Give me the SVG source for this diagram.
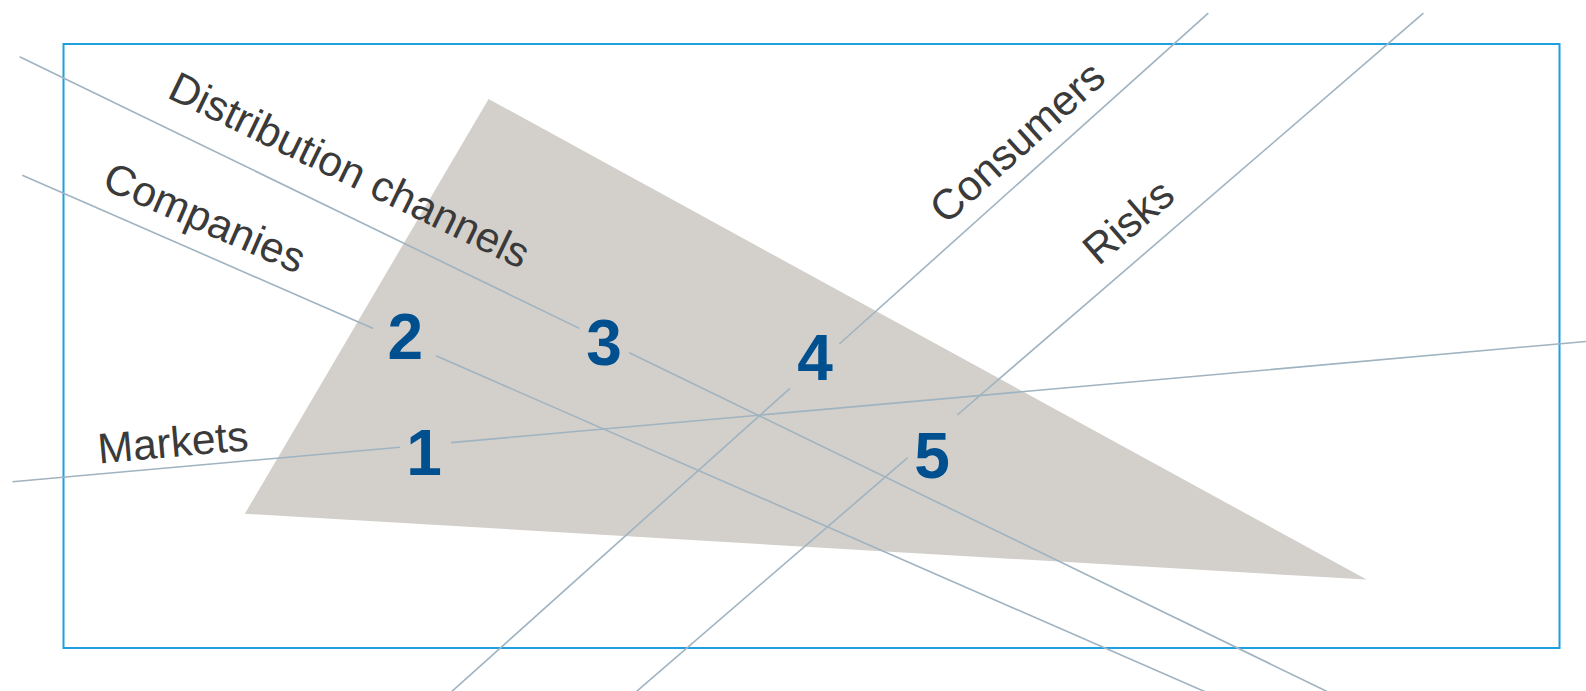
<svg xmlns="http://www.w3.org/2000/svg" width="1586" height="691" viewBox="0 0 1586 691">
<style>
.frame{fill:none;stroke:#1ea0e0;stroke-width:2}
.tri{fill:#d3d0cb}
.ln{stroke:#9fb3c1;stroke-width:1.6;fill:none}
.lbl{font-family:"Liberation Sans",Arial,sans-serif;font-size:42.5px;fill:#3a3a3a}
.num{font-family:"Liberation Sans",Arial,sans-serif;font-size:64px;font-weight:bold;fill:#00508f;text-anchor:middle}
</style>
<rect width="1586" height="691" fill="#ffffff"/>
<rect id="frame" class="frame" x="63.5" y="44" width="1496" height="604"/>
<polygon id="triangle" class="tri" points="488.6,99 244.8,513.8 1366.6,579.6"/>
<g id="connectors">
<line class="ln" x1="19.6" y1="56.7" x2="579.3" y2="328.4"/>
<line class="ln" x1="629.3" y1="352.7" x2="1344.6" y2="700"/>
<line class="ln" x1="22.3" y1="175.2" x2="373.3" y2="328.5"/>
<line class="ln" x1="436" y1="355.8" x2="1224" y2="700"/>
<line class="ln" x1="12.5" y1="481.7" x2="400" y2="447.2"/>
<line class="ln" x1="451" y1="442.6" x2="1590" y2="341.1"/>
<line class="ln" x1="1208.3" y1="13.2" x2="839.3" y2="344"/>
<line class="ln" x1="790" y1="388.3" x2="442.3" y2="700"/>
<line class="ln" x1="1423.4" y1="13.2" x2="957.3" y2="415"/>
<line class="ln" x1="907.7" y1="457.7" x2="626.6" y2="700"/>
</g>
<g id="markets"><text class="lbl" transform="translate(99,463.5) rotate(-5.09)">Markets</text><text class="num" x="424" y="475">1</text></g>
<g id="companies"><text class="lbl" transform="translate(100.5,188) rotate(23.6)">Companies</text><text class="num" x="405.3" y="359">2</text></g>
<g id="distribution"><text class="lbl" transform="translate(165.7,97) rotate(25.9)">Distribution channels</text><text class="num" x="604" y="365">3</text></g>
<g id="consumers"><text class="lbl" transform="translate(946,225.4) rotate(-41.9)">Consumers</text><text class="num" x="815" y="380">4</text></g>
<g id="risks"><text class="lbl" transform="translate(1098.5,266.5) rotate(-40.8)">Risks</text><text class="num" x="932" y="478">5</text></g>
</svg>
